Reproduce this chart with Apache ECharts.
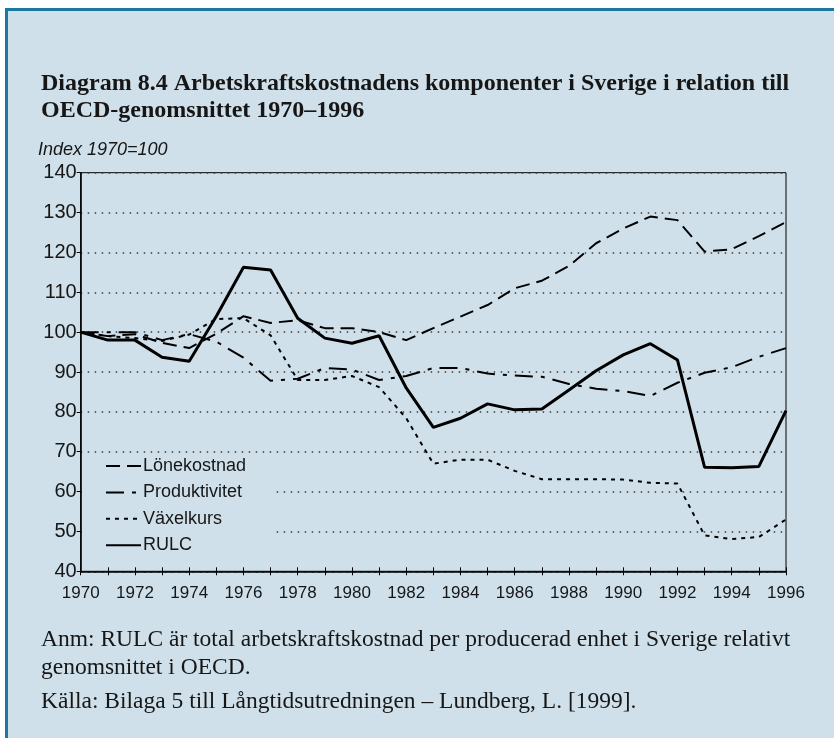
<!DOCTYPE html>
<html lang="sv">
<head>
<meta charset="utf-8">
<title>Diagram 8.4</title>
<script src="https://cdn.jsdelivr.net/npm/echarts@6/dist/echarts.min.js"></script>
<style>
  html, body { margin: 0; padding: 0; background: #ffffff; }
  #panel {
    position: absolute; left: 5px; top: 8px; right: 0; bottom: 0;
    background: #cfe0ea;
    border-left: 3px solid #1b79a0;
    border-top: 3px solid #1b79a0;
  }
  #chart { position: absolute; left: 0; top: 0; width: 834px; height: 738px; }
</style>
</head>
<body>
<div id="panel"></div>
<div id="chart"></div>
<script>
// Years on the x axis
const years = ['1970','1971','1972','1973','1974','1975','1976','1977','1978','1979',
               '1980','1981','1982','1983','1984','1985','1986','1987','1988','1989',
               '1990','1991','1992','1993','1994','1995','1996'];

// Index 1970 = 100, Sweden relative to the OECD average
const lonekostnad = [100, 99, 99.5, 97.3, 96, 99.6, 104, 102.3, 103, 101, 101, 100, 98,
                     101, 103.9, 106.8, 111, 112.9, 116.6, 122.3, 126, 129, 128.1,
                     120.2, 120.8, 124.1, 127.6];
const produktivitet = [100, 100, 100, 98, 99.5, 97.6, 93.6, 87.8, 88.3, 91, 90.6, 88, 89,
                       91, 91, 89.6, 89.1, 88.8, 87, 85.8, 85.2, 84, 87.3,
                       89.8, 91.2, 93.8, 96];
const vaxelkurs = [100, 99, 98.5, 97.8, 99.4, 103.3, 103.5, 99.2, 88, 88, 89, 86.2, 78.4,
                   67, 68, 68, 65.2, 63.1, 63.1, 63.1, 63, 62.2, 62,
                   49, 48.1, 48.6, 53];
const rulc = [100, 98, 98, 93.7, 92.7, 104, 116.3, 115.6, 103.5, 98.5, 97.2, 99.1, 86,
              76.1, 78.4, 82, 80.5, 80.7, 85.5, 90.3, 94.3, 97.1, 93,
              66.1, 66, 66.3, 80.3];

const seriesNames = ['Lönekostnad', 'Produktivitet', 'Växelkurs', 'RULC'];

const titleText = 'Diagram 8.4 Arbetskraftskostnadens komponenter i Sverige i relation till\nOECD-genomsnittet 1970–1996';
const unitText = 'Index 1970=100';
const noteText = 'Anm: RULC är total arbetskraftskostnad per producerad enhet i Sverige relativt\ngenomsnittet i OECD.';
const sourceText = 'Källa: Bilaga 5 till Långtidsutredningen – Lundberg, L. [1999].';

const sans = '"Liberation Sans", Arial, sans-serif';
const serif = '"Liberation Serif", "Times New Roman", serif';
const ink = '#161616';

const chart = echarts.init(document.getElementById('chart'), null, { renderer: 'canvas' });

chart.setOption({
  animation: false,
  backgroundColor: 'transparent',
  title: [
    {
      text: titleText, left: 41, top: 70, padding: 0,
      textStyle: { fontFamily: serif, fontWeight: 'bold', fontSize: 24, lineHeight: 27, color: ink }
    },
    {
      text: unitText, left: 38, top: 141, padding: 0,
      textStyle: { fontFamily: sans, fontStyle: 'italic', fontWeight: 'normal', fontSize: 18, lineHeight: 18, color: ink }
    },
    {
      text: noteText, left: 41, top: 626, padding: 0,
      textStyle: { fontFamily: serif, fontWeight: 'normal', fontSize: 23.5, lineHeight: 28, color: ink }
    },
    {
      text: sourceText, left: 41, top: 688, padding: 0,
      textStyle: { fontFamily: serif, fontWeight: 'normal', fontSize: 23.5, lineHeight: 28, color: ink }
    }
  ],
  grid: {
    left: 80.7, right: 48, top: 172.7, bottom: 166.7,
    show: true, borderColor: '#000', borderWidth: 1, backgroundColor: 'transparent'
  },
  legend: {
    orient: 'vertical', left: 82, top: 454,
    itemWidth: 35, itemHeight: 12, itemGap: 8.4,
    padding: [3, 26, 9, 23],
    backgroundColor: '#cfe0ea',
    itemStyle: { opacity: 0 },
    textStyle: { fontFamily: sans, fontSize: 18, color: ink, padding: [0, 0, 0, -3] },
    data: seriesNames
  },
  xAxis: [
    {
      type: 'category', data: years, boundaryGap: false,
      axisLine: { lineStyle: { color: '#000', width: 1.5 } },
      axisTick: { show: true, length: 4, interval: 0, lineStyle: { color: '#000', width: 1 } },
      axisLabel: { interval: 1, margin: 14, fontFamily: sans, fontSize: 17, color: ink },
      splitLine: { show: false }
    },
    {
      type: 'category', data: years, boundaryGap: false, position: 'bottom',
      axisLine: { show: false },
      axisTick: { show: true, inside: true, length: 4, interval: 0, lineStyle: { color: '#000', width: 1 } },
      axisLabel: { show: false },
      splitLine: { show: false }
    }
  ],
  yAxis: {
    type: 'value', min: 40, max: 140, interval: 10,
    axisLine: { show: true, lineStyle: { color: '#000', width: 1.5 } },
    axisTick: { show: true, length: 4, lineStyle: { color: '#000', width: 1 } },
    axisLabel: { margin: 4, fontFamily: sans, fontSize: 20, color: ink },
    splitLine: { show: true, lineStyle: { color: '#3a3a3a', width: 1.5, type: [1.5, 5.5] } }
  },
  series: [
    {
      name: seriesNames[0], type: 'line', data: lonekostnad, symbol: 'none',
      itemStyle: { color: '#000' },
      lineStyle: { color: '#000', width: 2, type: [14, 7] }, z: 3
    },
    {
      name: seriesNames[1], type: 'line', data: produktivitet, symbol: 'none',
      itemStyle: { color: '#000' },
      lineStyle: { color: '#000', width: 2, type: [18, 8, 4, 8] }, z: 3
    },
    {
      name: seriesNames[2], type: 'line', data: vaxelkurs, symbol: 'none',
      itemStyle: { color: '#000' },
      lineStyle: { color: '#000', width: 2, type: [4, 5] }, z: 3
    },
    {
      name: seriesNames[3], type: 'line', data: rulc, symbol: 'none',
      itemStyle: { color: '#000' },
      lineStyle: { color: '#000', width: 3, type: 'solid' }, z: 4
    }
  ]
});
</script>
</body>
</html>
